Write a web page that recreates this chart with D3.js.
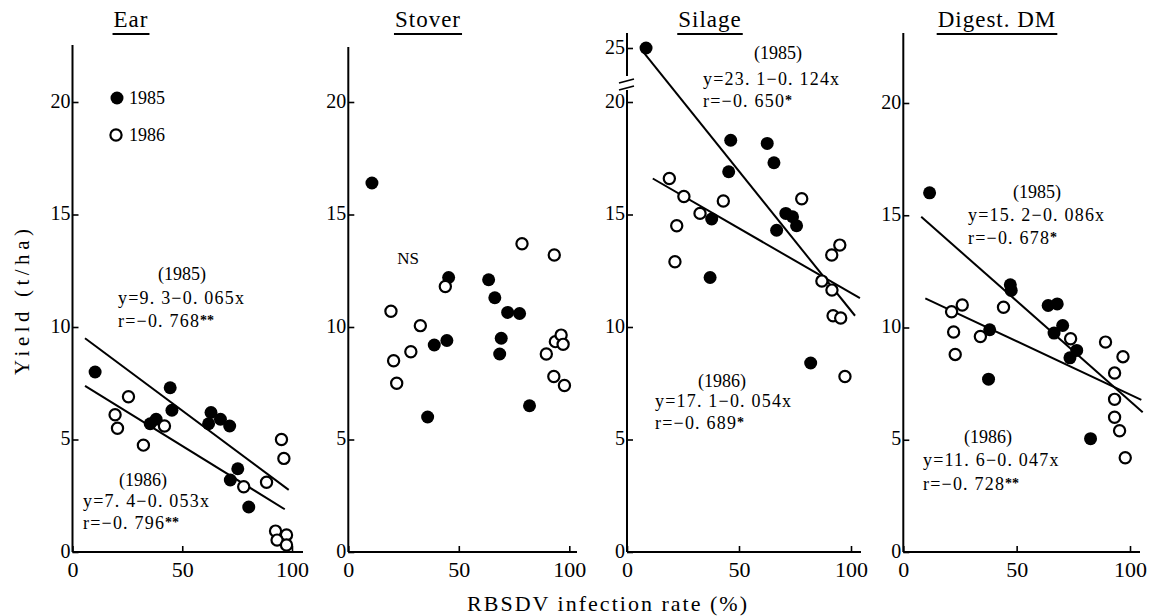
<!DOCTYPE html>
<html>
<head>
<meta charset="utf-8">
<script src="https://cdn.jsdelivr.net/npm/d3@7"></script>
<style>
  body { margin: 0; background: #fff; }
  text { font-family: "Liberation Serif", "Times New Roman", Times, serif; fill: #000; }
</style>
</head>
<body>
<div id="chart"></div>
<script>
// panel titles and legend labels
const titles = ["Ear", "Stover", "Silage", "Digest. DM"];
const years = ["1985", "1986"];
const xTicks = [0, 50, 100];
const yTicks = [0, 5, 10, 15, 20];
const yTicksSilage = [0, 5, 10, 15, 20, 25];

// points: [RBSDV infection rate %, yield t/ha]
const ear1985 = [[10.3, 8.0], [44.5, 7.3], [45.3, 6.3], [35.4, 5.7], [38.1, 5.9], [63.1, 6.2],
  [62, 5.7], [67.4, 5.9], [71.6, 5.6], [75.3, 3.7], [71.9, 3.2], [80.3, 2.0]];
const ear1986 = [[19.4, 6.1], [20.5, 5.5], [25.5, 6.9], [32.3, 4.75], [41.9, 5.6], [78, 2.9],
  [88.4, 3.1], [95.2, 5.0], [96.3, 4.16], [92.5, 0.93], [97.5, 0.76], [93.2, 0.53], [97.5, 0.31]];
const stover1985 = [[10.7, 16.4], [45.4, 12.2], [63.5, 12.1], [66.3, 11.3], [72.1, 10.65], [77.5, 10.6],
  [69.2, 9.5], [68.5, 8.8], [38.9, 9.2], [44.6, 9.4], [35.9, 6.0], [82, 6.5]];
const stover1986 = [[43.9, 11.8], [78.6, 13.7], [93.2, 13.2], [19.3, 10.7], [32.6, 10.06], [20.5, 8.5],
  [28.3, 8.9], [21.9, 7.5], [89.6, 8.8], [93.7, 9.35], [96.3, 9.64], [97.2, 9.23], [93, 7.8], [97.8, 7.4]];
const silage1985 = [[8.5, 25.0], [46.3, 18.3], [62.6, 18.16], [65.6, 17.3], [45.4, 16.9], [70.9, 15.05],
  [73.9, 14.9], [75.7, 14.5], [66.8, 14.3], [37.8, 14.8], [37.1, 12.2], [82, 8.4]];
const silage1986 = [[18.9, 16.6], [25.4, 15.8], [43, 15.6], [32.6, 15.05], [22.2, 14.5], [21.4, 12.9],
  [78, 15.7], [95, 13.64], [91.4, 13.2], [87, 12.04], [91.5, 11.64], [92, 10.5], [95.4, 10.4], [97.3, 7.8]];
const digest1985 = [[11.6, 16.0], [47.2, 11.9], [47.6, 11.65], [63.9, 10.98], [67.9, 11.05], [70.3, 10.09],
  [66.5, 9.75], [76.5, 8.98], [73.5, 8.65], [38.1, 9.9], [37.6, 7.7], [82.6, 5.05]];
const digest1986 = [[21.3, 10.7], [26, 11.0], [44.2, 10.9], [22.2, 9.8], [22.9, 8.8], [34, 9.6],
  [73.8, 9.5], [89.2, 9.35], [96.9, 8.7], [93.2, 7.97], [93.2, 6.8], [93.2, 6.0], [95.4, 5.4], [97.9, 4.2]];

// regression lines as drawn in the figure: [start, end]
const earLine1985 = [[5.7, 9.5], [98.5, 2.76]];
const earLine1986 = [[5.7, 7.38], [96.7, 1.9]];
const silageLine1985 = [[6.6, 24.8], [101.8, 10.5]];
const silageLine1986 = [[11.5, 16.6], [104, 11.28]];
const digestLine1985 = [[7.9, 14.93], [105.6, 6.23]];
const digestLine1986 = [[9.7, 11.3], [105, 6.78]];

// regression notes: [year, equation, r, stars]
const earNotes = [["(1985)", "y=9. 3−0. 065x", "r=−0. 768", "**"], ["(1986)", "y=7. 4−0. 053x", "r=−0. 796", "**"]];
const silageNotes = [["(1985)", "y=23. 1−0. 124x", "r=−0. 650", "*"], ["(1986)", "y=17. 1−0. 054x", "r=−0. 689", "*"]];
const digestNotes = [["(1985)", "y=15. 2−0. 086x", "r=−0. 678", "*"], ["(1986)", "y=11. 6−0. 047x", "r=−0. 728", "**"]];
const stoverNote = "NS";

// layout
const W = 1155, H = 616;
const serif = "'Liberation Serif', 'Times New Roman', Times, serif";
const panels = [
  { x0: 72.5, x100: 292, top: 45, right: 303, tx: 131, dom: [0, 20], rng: [552, 102], ticks: yTicks,
    pts: [ear1985, ear1986], lines: [earLine1985, earLine1986], notes: earNotes,
    notePos: [[182, 118, 118], [274, 298, 321], [143, 83, 83], [480, 501, 523]] },
  { x0: 348.3, x100: 569.3, top: 47, right: 577, tx: 428, dom: [0, 20], rng: [552, 102], ticks: yTicks,
    pts: [stover1985, stover1986], lines: [], notes: [] },
  { x0: 627, x100: 851, top: 33, right: 861, tx: 710, dom: [0, 20, 25], rng: [552, 102, 48], ticks: yTicksSilage,
    pts: [silage1985, silage1986], lines: [silageLine1985, silageLine1986], notes: silageNotes, brk: true,
    notePos: [[778, 703, 703], [53, 79, 101], [722, 655, 655], [381, 401, 423]] },
  { x0: 903.3, x100: 1130, top: 33, right: 1140, tx: 997, dom: [0, 20], rng: [552, 103], ticks: yTicks,
    pts: [digest1985, digest1986], lines: [digestLine1985, digestLine1986], notes: digestNotes,
    notePos: [[1037, 968, 968], [192, 215, 238], [988, 923, 923], [437, 460, 484]] }
];

const svg = d3.select("#chart").append("svg")
  .attr("width", W).attr("height", H)
  .style("font-family", serif);

panels.forEach((p, i) => {
  const x = d3.scaleLinear().domain([0, 100]).range([p.x0, p.x100]);
  const y = d3.scaleLinear().domain(p.dom).range(p.rng);
  const g = svg.append("g");

  // title with underline
  const t = g.append("text")
    .attr("x", p.tx).attr("y", 27)
    .attr("text-anchor", "middle")
    .style("font-size", "23px").style("letter-spacing", "1px")
    .text(titles[i]);
  const bb = t.node().getBBox();
  g.append("line")
    .attr("x1", bb.x - 1).attr("x2", bb.x + bb.width + 1)
    .attr("y1", 34).attr("y2", 34)
    .attr("stroke", "#000").attr("stroke-width", 2);

  // y axis
  const ya = g.append("g")
    .attr("transform", `translate(${p.x0},0)`)
    .call(d3.axisLeft(y).tickValues(p.ticks).tickSizeInner(-6).tickSizeOuter(0).tickPadding(2));
  ya.attr("font-family", null);
  ya.select(".domain").remove();
  ya.selectAll(".tick line").attr("stroke-width", 1.6);
  ya.selectAll(".tick text").attr("dy", "0.25em")
    .style("font-size", "20px").style("font-family", serif);

  if (p.brk) {
    g.append("line").attr("x1", p.x0).attr("x2", p.x0).attr("y1", p.top).attr("y2", 76)
      .attr("stroke", "#000").attr("stroke-width", 2);
    g.append("line").attr("x1", p.x0).attr("x2", p.x0).attr("y1", 90).attr("y2", 552)
      .attr("stroke", "#000").attr("stroke-width", 2);
    [81, 88].forEach((yy) => {
      g.append("line").attr("x1", p.x0 - 8).attr("x2", p.x0 + 7)
        .attr("y1", yy + 2).attr("y2", yy - 2)
        .attr("stroke", "#000").attr("stroke-width", 1.8);
    });
  } else {
    g.append("line").attr("x1", p.x0).attr("x2", p.x0).attr("y1", p.top).attr("y2", 552)
      .attr("stroke", "#000").attr("stroke-width", 2);
  }

  // x axis
  const xa = g.append("g")
    .attr("transform", `translate(0,552)`)
    .call(d3.axisBottom(x).tickValues(xTicks).tickSizeInner(-6).tickSizeOuter(0).tickPadding(9));
  xa.attr("font-family", null);
  xa.select(".domain").remove();
  xa.selectAll(".tick line").attr("stroke-width", 1.6);
  xa.selectAll(".tick text").style("font-size", "22px").style("font-family", serif);
  g.append("line").attr("x1", p.x0).attr("x2", p.right).attr("y1", 552).attr("y2", 552)
    .attr("stroke", "#000").attr("stroke-width", 2);

  // regression lines
  p.lines.forEach((l) => {
    g.append("path")
      .datum(l)
      .attr("d", d3.line().x((d) => x(d[0])).y((d) => y(d[1])))
      .attr("fill", "none").attr("stroke", "#000").attr("stroke-width", 2);
  });

  // points: filled = 1985, open = 1986
  g.selectAll(".p85").data(p.pts[0]).enter().append("circle")
    .attr("class", "p85")
    .attr("cx", (d) => x(d[0])).attr("cy", (d) => y(d[1]))
    .attr("r", 6.5).attr("fill", "#000");
  g.selectAll(".p86").data(p.pts[1]).enter().append("circle")
    .attr("class", "p86")
    .attr("cx", (d) => x(d[0])).attr("cy", (d) => y(d[1]))
    .attr("r", 5.6).attr("fill", "#fff").attr("stroke", "#000").attr("stroke-width", 2.2);

  // regression notes
  p.notes.forEach((n, k) => {
    const px = p.notePos[k * 2], py = p.notePos[k * 2 + 1];
    g.append("text").attr("x", px[0]).attr("y", py[0]).attr("dy", "0.35em")
      .attr("text-anchor", "middle").style("font-size", "18px").text(n[0]);
    g.append("text").attr("x", px[1]).attr("y", py[1]).attr("dy", "0.35em")
      .style("font-size", "18px").style("letter-spacing", "1.2px").text(n[1]);
    const r = g.append("text").attr("x", px[2]).attr("y", py[2]).attr("dy", "0.35em")
      .style("font-size", "18px").style("letter-spacing", "1.2px").text(n[2]);
    r.append("tspan").attr("dy", "-0.2em").style("font-size", "14px")
      .style("font-weight", "bold").style("letter-spacing", "0px").text(n[3]);
  });
});

// NS label on Stover panel
svg.append("text").attr("x", 408).attr("y", 258).attr("dy", "0.35em")
  .attr("text-anchor", "middle").style("font-size", "17px").text(stoverNote);

// legend in the Ear panel
const leg = svg.append("g");
leg.append("circle").attr("cx", 117).attr("cy", 98).attr("r", 6.5).attr("fill", "#000");
leg.append("circle").attr("cx", 116).attr("cy", 135).attr("r", 5.6)
  .attr("fill", "#fff").attr("stroke", "#000").attr("stroke-width", 2.2);
years.forEach((yr, k) => {
  leg.append("text").attr("x", 129).attr("y", k ? 135 : 98).attr("dy", "0.35em")
    .style("font-size", "18px").text(yr);
});

// shared axis titles
svg.append("text")
  .attr("transform", "translate(22,302) rotate(-90)")
  .attr("text-anchor", "middle").attr("dy", "0.35em")
  .attr("textLength", 146).attr("lengthAdjust", "spacing")
  .style("font-size", "21px").text("Yield (t/ha)");
svg.append("text")
  .attr("x", 607).attr("y", 603).attr("dy", "0.35em")
  .attr("text-anchor", "middle")
  .attr("textLength", 280).attr("lengthAdjust", "spacing")
  .style("font-size", "22px").text("RBSDV infection rate (%)");
</script>
</body>
</html>
